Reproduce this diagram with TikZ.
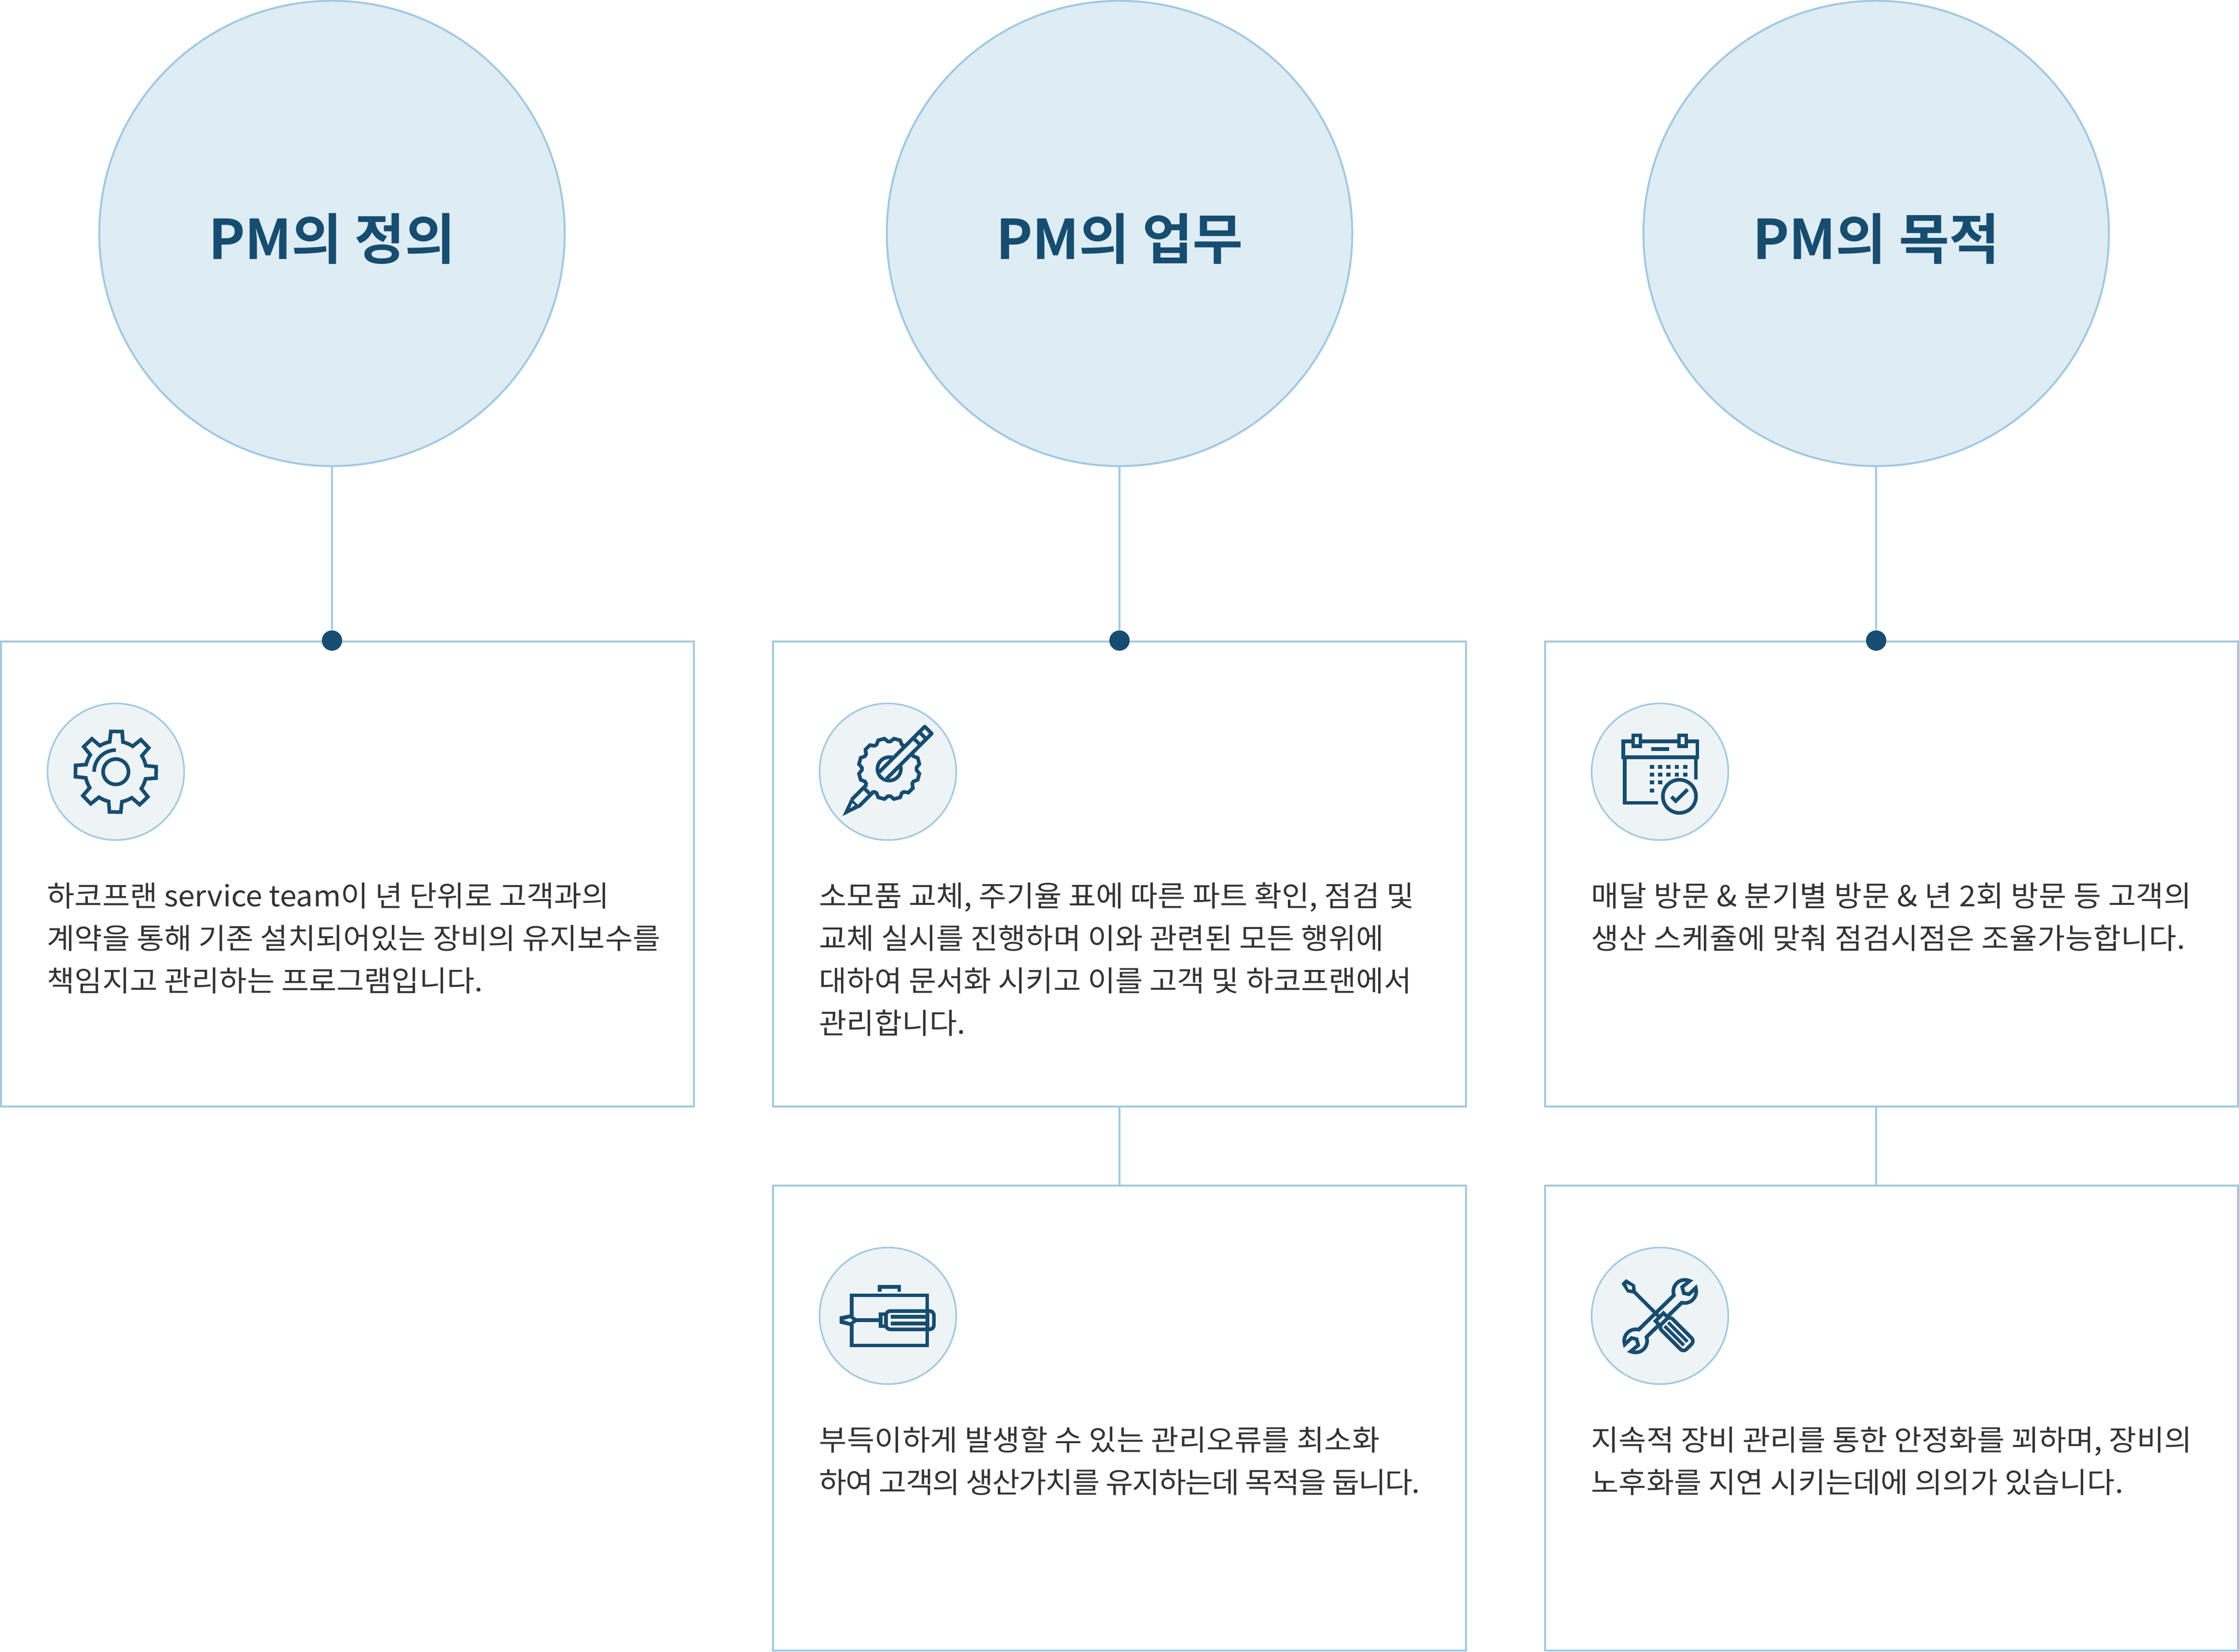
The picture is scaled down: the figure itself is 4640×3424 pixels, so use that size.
\documentclass[tikz,border=0pt]{standalone}
\usepackage{fontspec}
\setmainfont[FakeStretch=1.04]{Noto Sans CJK KR}
\newfontfamily\titlefont[BoldFont=*]{Noto Sans CJK KR Bold}
\definecolor{pmdark}{HTML}{164D70}
\definecolor{pmline}{HTML}{A0C9E0}
\definecolor{pmbig}{HTML}{DEECF4}
\definecolor{pmicon}{HTML}{EEF3F6}
\definecolor{pmtext}{HTML}{333333}
\newcommand{\headtext}[1]{\raisebox{-3pt}[\height][\depth]{#1}}
\newcommand{\tracked}[2]{{\addfontfeature{LetterSpace=#1}#2}}
\begin{document}
\begin{tikzpicture}[x=0.01cm,y=-0.01cm,
    head/.style={circle,draw=pmline,fill=pmbig,line width=.4mm,minimum size=9.64cm,inner sep=0pt,text=pmdark,
        font=\titlefont\fontsize{32.3}{40}\selectfont},
    panel/.style={rectangle,draw=pmline,line width=.4mm,minimum width=14.36cm,minimum height=9.64cm},
    badge/.style={circle,draw=pmline,fill=pmicon,line width=.33mm,minimum size=2.83cm,inner sep=0pt},
    note/.style={anchor=north west,inner sep=0pt,align=left,text=pmtext,font=\fontsize{17}{25.04}\selectfont},
    ball/.style={circle,fill=pmdark,minimum size=4.2mm,inner sep=0pt},
    conn/.style={draw=pmline,line width=.4mm}]
    \tikzstyle{iconln}=[draw=pmdark,line width=.75mm,miter limit=10]
    \useasboundingbox (0,0) rectangle (4640,3424);

    \node[head] (head1) at (688,484) {\headtext{PM의 정의}};
    \node[head] (head2) at (2320,484) {\headtext{PM의 업무}};
    \node[head] (head3) at (3888,484) {\headtext{PM의 목적}};

    \node[panel] (box1) at (720,1812) {};
    \node[panel] (box2) at (2320,1812) {};
    \node[panel] (box3) at (3920,1812) {};
    \node[panel] (sub2) at (2320,2940) {};
    \node[panel] (sub3) at (3920,2940) {};

    \node[ball] (dot1) at (688,1328) {};
    \node[ball] (dot2) at (2320,1328) {};
    \node[ball] (dot3) at (3888,1328) {};
    \draw[conn] (head1.south) -- (dot1.north);
    \draw[conn] (head2.south) -- (dot2.north);
    \draw[conn] (head3.south) -- (dot3.north);
    \draw[conn] (box2.south) -- (sub2.north);
    \draw[conn] (box3.south -| dot3) -- (sub3.north -| dot3);

    \node[badge] (icon1) at (240,1600) {};
    \node[badge] (icon2) at (1840,1600) {};
    \node[badge] (icon3) at (3440,1600) {};
    \node[badge] (icon4) at (1840,2728) {};
    \node[badge] (icon5) at (3440,2728) {};

    \node[note] (text1) at (97,1829) {하코프랜 service team이 년 단위로 고객과의\\계약을 통해 기존 설치되어있는 장비의 유지보수를\\책임지고 관리하는 프로그램입니다.};
    \node[note] (text2) at (1697,1829) {소모품 교체, 주기율 표에 따른 파트 확인, 점검 및\\교체 실시를 진행하며 이와 관련된 모든 행위에\\대하여 문서화 시키고 이를 고객 및 하코프랜에서\\관리합니다.};
    \node[note] (text3) at (3297,1829) {\tracked{1.2}{매달 방문 \& 분기별 방문 \& 년 2회 방문 등 고객의}\\\tracked{1.2}{생산 스케쥴에 맞춰 점검시점은 조율가능합니다.}};
    \node[note] (text4) at (1697,2957) {\tracked{.5}{부득이하게 발생할 수 있는 관리오류를 최소화}\\\tracked{-3.4}{하여 고객의 생산가치를 유지하는데 목적을 둡니다.}};
    \node[note] (text5) at (3297,2957) {지속적 장비 관리를 통한 안정화를 꾀하며, 장비의\\노후화를 지연 시키는데에 의의가 있습니다.};

    % gear
    \begin{scope}[shift={(60,1420)},scale=1/3]
    \begin{scope}[shift={(540,540)}]
    \draw[iconln] (-11.5:190) foreach \a in {1,46,...,316} {
        -- (\a-12.5:190) -- (\a-8:253) -- (\a+8:253) -- (\a+12.5:190)
        arc[start angle=\a+12.5,end angle=\a+32.5,radius=190]} -- cycle;
    \draw[iconln] (0,0) circle (79);
    \draw[iconln] (-135,0) arc[start angle=180,end angle=270,radius=135];
    \end{scope}
    \end{scope}

    % gear and pencil
    \begin{scope}[shift={(1660,1420)},scale=1/3]
    \begin{scope}[shift={(548,522)}]
    \draw[iconln] (-9:190) foreach \a in {0,30,...,330} {
        -- (\a-9:190) -- (\a-2.5:170) -- (\a+2.5:170) -- (\a+9:190)} -- cycle;
    \draw[iconln] (0,0) circle (73);
    \end{scope}
    \fill[pmicon] (484,544) -- (769,259) -- (812.5,302.5) -- (527.5,587.5) -- cycle;
    \draw[iconln,line join=round] (484,544) -- (769,259) -- (812.5,302.5) -- (527.5,587.5);
    \draw[iconln] (698,330) -- (741.5,373.5);
    \draw[iconln] (735,293) -- (778.5,336.5);
    \fill[pmicon] (315.5,712.5) -- (401.5,626.5) -- (445,670) -- (359,756) -- cycle;
    \draw[iconln] (315.5,712.5) -- (401.5,626.5);
    \draw[iconln] (359,756) -- (445,670);
    \draw[iconln] (389,639) -- (432.5,682.5);
    \fill[pmdark] (258,815) -- (310,705) -- (370,760) -- cycle;
    \fill[pmicon] (305,768) -- (335,748) -- (318,735) -- cycle;
    \end{scope}

    % calendar
    \begin{scope}[shift={(3260,1420)},scale=1/3]
    \draw[iconln] (312,351) rectangle (773,450);
    \draw[iconln,fill=pmicon] (373,313) rectangle (418,381);
    \draw[iconln,fill=pmicon] (658,313) rectangle (703,381);
    \fill[pmdark] (487,386) rectangle (598,410);
    \draw[iconln] (321,450) -- (321,733) -- (528,733);
    \draw[iconln] (763,450) -- (763,589);
    \foreach \px in {490,542,593,645,697} {
        \foreach \py in {510,559} {
            \fill[pmdark] (\px-13,\py-12) rectangle (\px+13,\py+12);
        }
    }
    \fill[pmdark] (477,595) rectangle (503,619);
    \fill[pmdark] (529,595) rectangle (555,619);
    \fill[pmdark] (477,644) rectangle (503,668);
    \draw[iconln] (661,693) circle (103);
    \draw[iconln] (612,695) -- (638,722) -- (712,650);
    \end{scope}

    % case and screwdriver
    \begin{scope}[shift={(1660,2550)},scale=1/3]
    \draw[iconln] (489,385) -- (489,354) -- (611,354) -- (611,385);
    \draw[iconln] (315,407) rectangle (785,719);
    \draw[iconln,fill=pmicon] (495,524) rectangle (528,599);
    \draw[iconln,fill=pmicon,rounded corners=2.5pt] (528,504) rectangle (826,618);
    \fill[pmdark] (775,504) rectangle (797,618);
    \fill[pmdark] (558,527) rectangle (775,551);
    \fill[pmdark] (558,571) rectangle (775,595);
    \fill[pmdark] (345,549) rectangle (483,573);
    \fill[pmdark] (240,538) -- (305,525) -- (345,549) -- (345,573) -- (305,597) -- (240,582) -- cycle;
    \fill[pmicon] (263,560) -- (305,549) -- (322,561) -- (305,574) -- cycle;
    \end{scope}

    % wrench and screwdriver
    \begin{scope}[shift={(3260,2550)},scale=1/3]
    \foreach \r in {0,180} {
        \begin{scope}[rotate around={\r:(541.5,536)}]
        \draw[iconln] (406,621) -- (627,406)
            arc[start angle=160.6,end angle=295,radius=72]
            -- (678,355) -- (688,393) -- (720,400) -- (762,360)
            arc[start angle=-18,end angle=104.6,radius=72] -- (456,666);
        \end{scope}
    }
    \begin{scope}[shift={(520,525)},rotate=-45]
    \fill[pmdark] (-290,-20) -- (-226,-35) -- (-194,-11) -- (-194,11) -- (-226,33) -- (-290,20) -- cycle;
    \fill[pmicon] (-269,0) -- (-233,-14) -- (-218,1) -- (-235,13) -- cycle;
    \fill[pmdark] (-194,-11) rectangle (24,11);
    \draw[iconln,fill=pmicon] (24,-35) rectangle (64,35);
    \draw[iconln,fill=pmicon,rounded corners=2.5pt] (64,-49) -- (284,-49) -- (284,49) -- (64,49) -- cycle;
    \fill[pmdark] (86,7) rectangle (255,27);
    \fill[pmdark] (86,-25) rectangle (255,-5);
    \end{scope}
    \end{scope}

\end{tikzpicture}
\end{document}
